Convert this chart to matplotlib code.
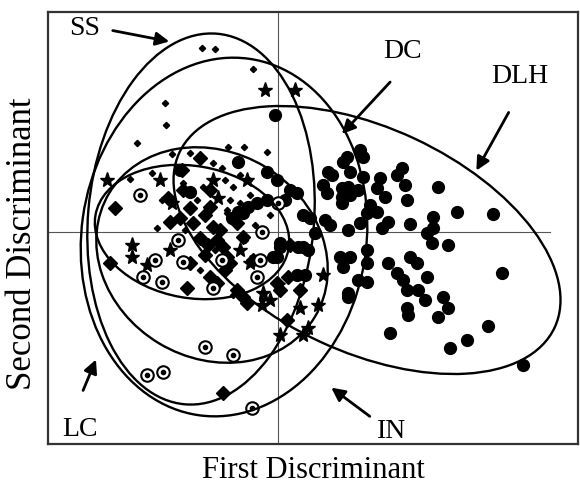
import numpy as np
import matplotlib
matplotlib.use("Agg")
from matplotlib import pyplot as plt
from matplotlib.patches import Ellipse

plt.rcParams['font.family'] = ['Liberation Serif', 'DejaVu Serif']

# discriminant scores
dlh_x = [-0.06, 1.38, 1.64, 1.70, 1.30, 1.00, 1.08, 1.44, 1.70, 2.48, 2.38, 2.04, 2.54, 0.90,
         0.98, 1.28, 1.40, 1.60, 1.28, 1.44, 1.98, 2.14, 2.58, 3.20, 1.28, 1.84, 1.78, 1.98,
         2.20, 2.08, 2.64, 3.10, 3.58, 4.30, 2.98, 3.10, 3.08, 3.40, 1.04, 1.40, 1.64, 0.50,
         0.64, 0.04, -0.02, 0.50, 0.60, 1.24, 1.44, 1.30, 1.78, 1.78, 2.20, 1.78, 1.60, 1.40,
         2.64, 2.78, 2.38, 2.50, 2.98, 2.58, 2.80, 2.94, 3.30, 3.40, 2.58, 2.60, 3.20, 4.48,
         4.20, 3.78, 3.44, 2.24, 4.90,
         -0.80, -0.22, -1.76, -0.70, -0.42, -0.22, -0.60, -0.80, -0.92, -0.02, -1.96, 0.38,
         0.40, 0.38, 0.54, 0.94, 0.74, 1.40, 0.04, -0.10, 0.24, 0.14]
dlh_y = [2.34, 1.50, 1.64, 1.50, 1.40, 1.20, 1.14, 1.20, 1.10, 1.28, 1.14, 1.08, 0.94, 0.94,
         0.78, 0.88, 0.90, 0.84, 0.70, 0.74, 0.88, 0.70, 0.64, 0.90, 0.58, 0.54, 0.38, 0.40,
         0.20, 0.08, 0.16, 0.30, 0.40, 0.36, -0.02, 0.08, -0.22, -0.26, 0.14, 0.04, 0.18, 0.34,
         0.28, -0.22, -0.50, -0.30, -0.36, -0.50, -0.50, -0.70, -0.36, -0.62, -0.62, -1.00, -0.96, -1.30,
         -0.50, -0.62, -0.82, -0.96, -0.90, -1.16, -1.16, -1.36, -1.30, -1.52, -1.52, -1.66, -1.70, -0.82,
         -1.88, -2.16, -2.32, -2.02, -2.66,
         1.40, 1.20, 0.80, 0.38, 0.58, 0.64, 0.50, 0.40, 0.28, 1.04, 1.24, 0.78,
         -0.30, -0.86, -0.86, 0.24, -0.02, -1.22, -0.30, -0.50, 0.84, 0.64]

ss_x = [-1.52, -1.26, -0.50, -2.26, -2.24, -2.82, -1.00, -0.68, -0.22, -1.76, -2.12, -1.30, -2.96,
        -2.52, -1.90, -1.50, -1.12, -0.76, -0.90, -0.58, -2.32, -1.62, -1.30, -1.02, -0.76, -1.06,
        -0.96, -2.42, -1.02, -0.56, -0.46, -0.66, -0.90, -0.32, -1.26, -1.56, -0.16, -1.86]
ss_y = [3.68, 3.66, 3.26, 2.58, 2.14, 1.78, 1.70, 1.70, 1.60, 1.58, 1.56, 1.38, 1.06,
        1.18, 0.98, 0.90, 1.28, 1.14, 0.90, 1.04, 0.64, 0.64, 0.50, 0.38, 0.58, 1.04,
        0.64, 0.08, 0.44, 0.74, 0.14, -0.16, -1.26, -1.36, -0.36, -0.76, 0.34, 0.04]

dc_x = [-1.56, -1.92, -3.26, -2.16, -1.96, -1.76, -1.70, -1.46, -1.36, -1.30, -1.40, -1.22, -1.10,
        -1.16, -1.02, -0.96, -1.46, -1.76, -1.82, -1.36, -1.22, -0.82, -0.70, -0.62, -2.20, -3.36,
        -1.90, -1.36, -0.82, -0.70, -0.50, -0.02, 0.18, 0.20, -1.10, 0.04, 0.44, 0.24, -1.06, -1.56]
dc_y = [1.48, 1.24, 0.48, 0.20, 0.28, 0.48, 0.18, 0.34, 0.50, 0.10, -0.26, -0.16, -0.30,
        0.04, -0.50, -0.62, -0.46, -0.62, -1.12, -0.90, -1.02, -1.16, -1.30, -1.42, 0.68, -0.62,
        0.84, 0.84, 0.18, -0.10, -0.56, -1.02, -1.76, -0.90, -3.22, -1.16, -1.16, -0.26, -0.76, -0.12]

in_x = [-0.26, 0.34, -3.42, -2.36, -1.30, -2.12, -0.62, -1.20, -2.92, -2.92, -2.16, -2.62, -0.56,
        0.00, 0.44, 0.80, 0.04, 0.50, 0.60, -0.30, -0.32, 0.90, -0.76, -0.16]
in_y = [2.84, 2.84, 1.04, 1.04, 1.04, 0.58, 1.04, 0.68, -0.26, -0.50, -0.36, -0.66, -0.62,
        -1.06, -1.52, -1.46, -2.06, -2.06, -1.92, -1.22, -1.46, -0.86, -0.36, -1.36]

lc_x = [-2.00, -2.46, -2.70, -2.32, -1.30, -0.32, -1.90, -0.42, -1.12, -1.46, -0.90, -2.62, -2.30,
        -0.52, -2.76, 0.00, -0.36]
lc_y = [-0.16, -0.56, -0.90, -1.00, -1.12, 0.00, -0.60, -0.90, -0.56, -2.30, -2.46, -2.86, -2.80,
        -3.52, 0.74, 0.58, -0.56]

# group ellipses: centre, width, height, angle
ell_names = ['SS', 'DC', 'DLH', 'IN', 'LC']
ell_cx = [-1.54, -1.08, 1.78, -1.32, -1.72]
ell_cy = [0.26, -0.10, -0.16, -0.46, 0.00]
ell_w = [4.52, 5.70, 8.28, 4.80, 3.92]
ell_h = [7.44, 7.20, 4.48, 4.12, 2.64]
ell_ang = [-5, -8, -25, -31, -10]

# labels: text position, arrow tail, arrow head
lab_names = ['SS', 'DC', 'DLH', 'LC', 'IN']
lab_pos = [(-3.86, 4.08), (2.48, 3.62), (4.84, 3.12), (-3.96, -3.96), (2.28, -4.00)]
arr_tail = [(-3.36, 4.04), (2.28, 3.04), (4.64, 2.44), (-3.92, -3.22), (1.88, -3.72)]
arr_head = [(-2.12, 3.80), (1.24, 1.92), (3.94, 1.18), (-3.62, -2.50), (1.02, -3.08)]

fig = plt.figure(figsize=(5.8, 4.87), dpi=100)
ax = fig.add_axes([0.0828, 0.0883, 0.9138, 0.887])
ax.set_xlim(-4.6, 6.0)
ax.set_ylim(-4.24, 4.4)

ax.axhline(0, xmin=0, xmax=0.947, color='#555555', lw=0.8, zorder=1)
ax.axvline(0, color='#555555', lw=0.8, zorder=1)

ax.plot(dlh_x, dlh_y, 'o', ms=8.5, color='black', mec='black', zorder=2)
ax.plot(dc_x, dc_y, 'D', ms=7, color='black', zorder=2)
ax.plot(ss_x, ss_y, 'D', ms=3.2, color='black', zorder=2)
ax.plot(in_x, in_y, '*', ms=11, color='black', zorder=2)
ax.plot(lc_x, lc_y, 'o', ms=9, mfc='white', mec='black', mew=1.5, zorder=2)
ax.plot(lc_x, lc_y, 'o', ms=3, color='black', zorder=2)

for cx, cy, w, h, a in zip(ell_cx, ell_cy, ell_w, ell_h, ell_ang):
    ax.add_patch(Ellipse((cx, cy), w, h, angle=a, fill=False, ec='black', lw=1.7, zorder=3))

for name, p, t, hd in zip(lab_names, lab_pos, arr_tail, arr_head):
    ax.text(p[0], p[1], name, fontsize=20, ha='center', va='center')
    ax.annotate('', xy=hd, xytext=t,
                arrowprops=dict(arrowstyle='-|>', color='black', lw=2, mutation_scale=20))

ax.set_xticks([])
ax.set_yticks([])
for s in ax.spines.values():
    s.set_linewidth(1.6)
    s.set_color('#333333')

ax.set_xlabel('First Discriminant', fontsize=22, va='center')
ax.xaxis.set_label_coords(0.5, -0.062)
ax.set_ylabel('Second Discriminant', fontsize=25, va='center')
ax.yaxis.set_label_coords(-0.049, 0.463)

fig.savefig('out.png', dpi=100)
